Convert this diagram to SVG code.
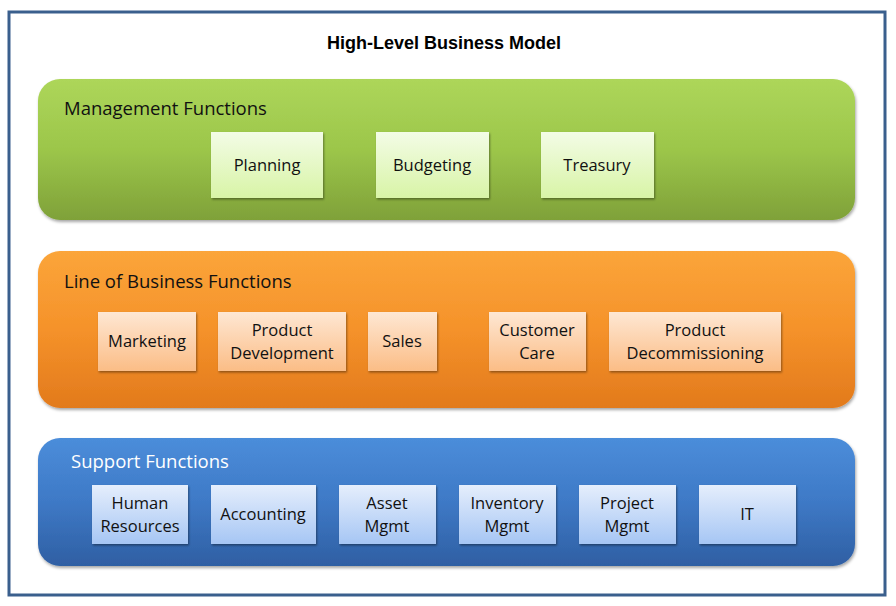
<svg xmlns="http://www.w3.org/2000/svg" width="896" height="606" viewBox="0 0 896 606">
<style>
.title{font-family:"Liberation Sans","Open Sans",sans-serif;font-weight:bold;font-size:18px;fill:#000;text-anchor:middle}
.plabel{font-family:"Open Sans","Liberation Sans",sans-serif;font-size:18.5px;fill:#111}
.plabelw{font-family:"Open Sans","Liberation Sans",sans-serif;font-size:18.5px;fill:#fff}
.btext{font-family:"Open Sans","Liberation Sans",sans-serif;font-size:16.5px;fill:#111;text-anchor:middle}
</style>
<defs>
<linearGradient id="gG" x1="0" y1="0" x2="0" y2="1"><stop offset="0" stop-color="#ADD65A"/><stop offset="0.5" stop-color="#9CC64A"/><stop offset="1" stop-color="#7FA139"/></linearGradient>
<linearGradient id="gO" x1="0" y1="0" x2="0" y2="1"><stop offset="0" stop-color="#FBA53A"/><stop offset="0.5" stop-color="#F5922A"/><stop offset="1" stop-color="#E27A1C"/></linearGradient>
<linearGradient id="gB" x1="0" y1="0" x2="0" y2="1"><stop offset="0" stop-color="#4B8DDA"/><stop offset="0.5" stop-color="#3E79C6"/><stop offset="1" stop-color="#2F5FA3"/></linearGradient>
<linearGradient id="iG" x1="0" y1="0" x2="0" y2="1"><stop offset="0" stop-color="#F3FCE6"/><stop offset="1" stop-color="#D8F4A6"/></linearGradient>
<linearGradient id="iO" x1="0" y1="0" x2="0" y2="1"><stop offset="0" stop-color="#FEE7D3"/><stop offset="1" stop-color="#FBBD86"/></linearGradient>
<linearGradient id="iB" x1="0" y1="0" x2="0" y2="1"><stop offset="0" stop-color="#E5EEFC"/><stop offset="1" stop-color="#A6C6F4"/></linearGradient>
<filter id="sh" x="-10%" y="-10%" width="120%" height="130%"><feDropShadow dx="1" dy="2" stdDeviation="1.5" flood-color="#000" flood-opacity="0.35"/></filter>
<filter id="shs" x="-10%" y="-10%" width="120%" height="130%"><feDropShadow dx="1" dy="1.5" stdDeviation="1" flood-color="#000" flood-opacity="0.4"/></filter>
</defs>
<rect x="0" y="0" width="896" height="606" fill="#fff"/>
<rect x="9" y="12" width="876" height="583" fill="#fff" stroke="#3A5F8D" stroke-width="3"/>
<text class="title" x="444" y="49">High-Level Business Model</text>

<g id="management">
<rect x="38" y="79" width="817" height="141" rx="22" fill="url(#gG)" filter="url(#sh)"/>
<text class="plabel" x="64" y="115">Management Functions</text>
</g>
<g id="planning"><rect x="211" y="132" width="112" height="66" fill="url(#iG)" filter="url(#shs)"/><text class="btext" x="267" y="171">Planning</text></g>
<g id="budgeting"><rect x="376" y="132" width="113" height="66" fill="url(#iG)" filter="url(#shs)"/><text class="btext" x="432" y="171">Budgeting</text></g>
<g id="treasury"><rect x="541" y="132" width="113" height="66" fill="url(#iG)" filter="url(#shs)"/><text class="btext" x="597" y="171">Treasury</text></g>

<g id="lob">
<rect x="38" y="251" width="817" height="157" rx="22" fill="url(#gO)" filter="url(#sh)"/>
<text class="plabel" x="64" y="288">Line of Business Functions</text>
</g>
<g id="marketing"><rect x="98" y="312" width="98" height="59" fill="url(#iO)" filter="url(#shs)"/><text class="btext" x="147" y="347">Marketing</text></g>
<g id="productdev"><rect x="218" y="312" width="128" height="59" fill="url(#iO)" filter="url(#shs)"/><text class="btext" x="282" y="336">Product</text><text class="btext" x="282" y="359">Development</text></g>
<g id="sales"><rect x="368" y="312" width="69" height="59" fill="url(#iO)" filter="url(#shs)"/><text class="btext" x="402" y="347">Sales</text></g>
<g id="customercare"><rect x="489" y="312" width="97" height="59" fill="url(#iO)" filter="url(#shs)"/><text class="btext" x="537" y="336">Customer</text><text class="btext" x="537" y="359">Care</text></g>
<g id="productdecom"><rect x="609" y="312" width="172" height="59" fill="url(#iO)" filter="url(#shs)"/><text class="btext" x="695" y="336">Product</text><text class="btext" x="695" y="359">Decommissioning</text></g>

<g id="support">
<rect x="38" y="438" width="817" height="128" rx="22" fill="url(#gB)" filter="url(#sh)"/>
<text class="plabelw" x="71" y="468">Support Functions</text>
</g>
<g id="hr"><rect x="92" y="485" width="96" height="59" fill="url(#iB)" filter="url(#shs)"/><text class="btext" x="140" y="509">Human</text><text class="btext" x="140" y="532">Resources</text></g>
<g id="accounting"><rect x="211" y="485" width="105" height="59" fill="url(#iB)" filter="url(#shs)"/><text class="btext" x="263" y="520">Accounting</text></g>
<g id="asset"><rect x="339" y="485" width="97" height="59" fill="url(#iB)" filter="url(#shs)"/><text class="btext" x="387" y="509">Asset</text><text class="btext" x="387" y="532">Mgmt</text></g>
<g id="inventory"><rect x="459" y="485" width="97" height="59" fill="url(#iB)" filter="url(#shs)"/><text class="btext" x="507" y="509">Inventory</text><text class="btext" x="507" y="532">Mgmt</text></g>
<g id="project"><rect x="579" y="485" width="97" height="59" fill="url(#iB)" filter="url(#shs)"/><text class="btext" x="627" y="509">Project</text><text class="btext" x="627" y="532">Mgmt</text></g>
<g id="it"><rect x="699" y="485" width="97" height="59" fill="url(#iB)" filter="url(#shs)"/><text class="btext" x="747" y="520">IT</text></g>
<g id="connectors"></g>
</svg>
